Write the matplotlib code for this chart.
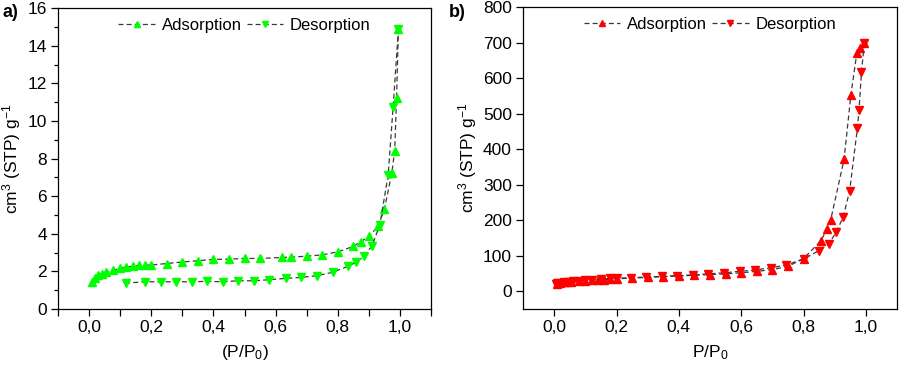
import matplotlib
matplotlib.use("Agg")
from matplotlib import pyplot as plt
from matplotlib.ticker import MultipleLocator

plt.rcParams['font.family'] = ['Liberation Sans', 'DejaVu Sans']
plt.rcParams['mathtext.fontset'] = 'custom'
plt.rcParams['mathtext.rm'] = 'Liberation Sans'
plt.rcParams['mathtext.it'] = 'Liberation Sans'

# panel a) - green
a_ads_p = [0.009, 0.019, 0.03, 0.041, 0.055, 0.078, 0.10, 0.12, 0.14, 0.16, 0.18, 0.20,
           0.25, 0.30, 0.35, 0.40, 0.45, 0.50, 0.55, 0.62, 0.65, 0.70, 0.75, 0.80,
           0.85, 0.875, 0.90, 0.929, 0.95, 0.974, 0.983, 0.989, 0.995]
a_ads_v = [1.42, 1.65, 1.80, 1.88, 1.95, 2.05, 2.16, 2.23, 2.27, 2.32, 2.34, 2.34,
           2.42, 2.50, 2.57, 2.64, 2.65, 2.69, 2.69, 2.74, 2.76, 2.81, 2.88, 3.04,
           3.33, 3.59, 3.86, 4.39, 5.31, 7.26, 8.42, 11.2, 14.9]
a_des_p = [0.995, 0.978, 0.962, 0.935, 0.91, 0.884, 0.858, 0.833, 0.783, 0.733, 0.682,
           0.632, 0.58, 0.53, 0.48, 0.43, 0.38, 0.33, 0.28, 0.23, 0.18, 0.12]
a_des_v = [14.9, 10.76, 7.13, 4.46, 3.36, 2.80, 2.48, 2.27, 1.95, 1.77, 1.68,
           1.63, 1.56, 1.50, 1.50, 1.45, 1.47, 1.45, 1.45, 1.45, 1.45, 1.38]

# panel b) - red
b_ads_p = [0.01, 0.02, 0.03, 0.04, 0.055, 0.08, 0.10, 0.12, 0.14, 0.16, 0.18, 0.20,
           0.25, 0.30, 0.35, 0.40, 0.45, 0.50, 0.55, 0.60, 0.65, 0.70, 0.75, 0.80,
           0.856, 0.874, 0.887, 0.930, 0.952, 0.971, 0.982, 0.995]
b_ads_v = [20, 23, 25, 26, 27, 29, 30, 31, 32, 33, 34, 35,
           37, 39, 41, 43, 45, 47, 49, 52, 56, 61, 70, 92,
           142, 174, 200, 371, 553, 670, 684, 698]
b_des_p = [0.995, 0.986, 0.978, 0.973, 0.948, 0.927, 0.905, 0.882, 0.849, 0.803, 0.745,
           0.695, 0.645, 0.595, 0.545, 0.495, 0.445, 0.395, 0.345, 0.295, 0.245, 0.20,
           0.18, 0.15, 0.12, 0.10, 0.08, 0.06, 0.045, 0.03, 0.02, 0.01, 0.005]
b_des_v = [698, 618, 510, 460, 283, 208, 167, 134, 114, 92, 74,
           66, 60, 56, 52, 49, 46, 44, 42, 40, 38, 37,
           36, 34, 33, 32, 30, 28, 27, 25, 24, 22, 20]

fig = plt.figure(figsize=(8.99, 3.66), dpi=100)
ax1 = fig.add_axes([0.0645, 0.1557, 0.415, 0.822])
ax2 = fig.add_axes([0.5818, 0.1557, 0.416, 0.825])

line_kw = dict(linestyle='--', color='#3a3a3a', linewidth=0.9, dashes=(4, 2.5))


def draw_panel(ax, ads_p, ads_v, des_p, des_v, col):
    ax.plot(ads_p, ads_v, marker='^', markersize=6, markerfacecolor=col,
            markeredgecolor=col, label='Adsorption', **line_kw)
    ax.plot(des_p, des_v, marker='v', markersize=6, markerfacecolor=col,
            markeredgecolor=col, label='Desorption', **line_kw)
    ax.legend(loc='upper center', ncol=2, frameon=False, fontsize=12,
              handlelength=2.2, markerscale=0.75, columnspacing=0.3,
              handletextpad=0.4, borderaxespad=0.2)
    ax.set_xlim(-0.1, 1.1)
    ax.xaxis.set_major_formatter(plt.FuncFormatter(lambda v, p: f"{v:.1f}".replace('.', ',')))
    ax.tick_params(direction='out', labelsize=12.5, length=5, width=0.9, pad=3)
    ax.tick_params(which='minor', direction='out', length=3, width=0.9)
    for s in ax.spines.values():
        s.set_linewidth(0.9)
    ax.set_ylabel(r'cm$^{3}$ (STP) g$^{-1}$', fontsize=12.5, labelpad=3)


draw_panel(ax1, a_ads_p, a_ads_v, a_des_p, a_des_v, '#00ff00')
ax1.set_ylim(0, 16)
ax1.set_xticks([0.0, 0.2, 0.4, 0.6, 0.8, 1.0])
ax1.xaxis.set_minor_locator(MultipleLocator(0.1))
ax1.tick_params(axis='x', which='minor', length=5)
ax1.yaxis.set_major_locator(MultipleLocator(2))
ax1.yaxis.set_minor_locator(MultipleLocator(1))
ax1.set_xlabel(r'(P/P$_{0}$)', fontsize=12.5, labelpad=6)

draw_panel(ax2, b_ads_p, b_ads_v, b_des_p, b_des_v, '#ff0000')
ax2.set_ylim(-50, 800)
ax2.set_xticks([0.0, 0.2, 0.4, 0.6, 0.8, 1.0])
ax2.yaxis.set_major_locator(MultipleLocator(100))
ax2.set_xlabel(r'P/P$_{0}$', fontsize=12.5, labelpad=6)

fig.text(0.003, 0.953, 'a)', fontsize=13, fontweight='bold')
fig.text(0.499, 0.953, 'b)', fontsize=13, fontweight='bold')

fig.savefig('out.png', dpi=100)
